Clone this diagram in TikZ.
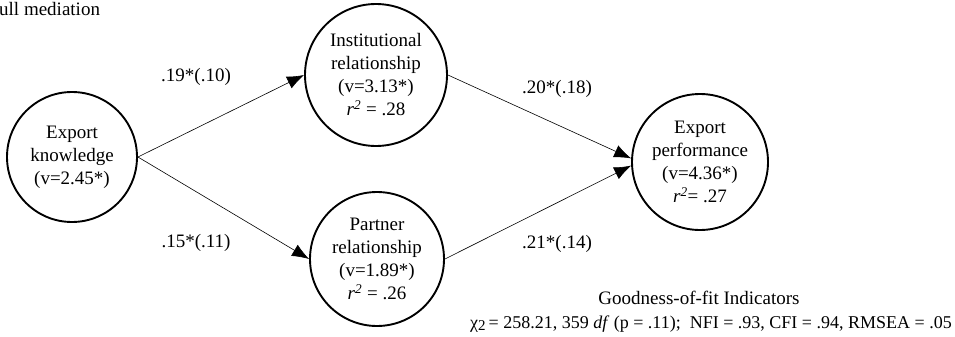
\documentclass[tikz,border=0pt]{standalone}
\usepackage{fontspec}
\setmainfont{Liberation Serif}
\usetikzlibrary{arrows.meta}
\begin{document}
\begin{tikzpicture}[x=1pt,y=-1pt,
  every node/.style={font=\fontsize{19}{23}\selectfont},
  var/.style={draw, circle, line width=1.9pt, inner sep=0pt, align=center},
  path/.style={draw, line width=0.6pt, -{Latex[length=17pt,width=13pt]}},
  coef/.style={inner sep=0pt}]
\useasboundingbox (0,0) rectangle (955,337);
\node[anchor=west, inner sep=0pt] (title) at (-1,9) {ull mediation};
\node[var, minimum size=130pt] (ek) at (72,157) {Export\\knowledge\\(v=2.45*)};
\node[var, minimum size=142pt] (inst) at (376,75) {Institutional\\relationship\\(v=3.13*)\\\textit{r}\textsuperscript{\textit{2}} = .28};
\node[var, minimum size=134pt] (part) at (377,259) {Partner\\relationship\\(v=1.89*)\\\textit{r}\textsuperscript{\textit{2}} = .26};
\node[var, minimum size=136pt] (ep) at (700,162) {Export\\performance\\(v=4.36*)\\\textit{r}\textsuperscript{\textit{2}}= .27};
\draw[path] (ek.east) -- (inst.west);
\draw[path] (ek.east) -- (part.west);
\draw[path] (inst.east) -- (ep.177);
\draw[path] (part.east) -- (ep.183);
\node[coef] (c1) at (196,77) {.19*(.10)};
\node[coef] (c2) at (196,243) {.15*(.11)};
\node[coef] (c3) at (557,89) {.20*(.18)};
\node[coef] (c4) at (557,244) {.21*(.14)};
\node[coef] (fit1) at (699,298) {Goodness-of-fit Indicators};
\node[coef, anchor=east, font=\fontsize{18}{20}\selectfont] (fit2) at (952,324) {χ\raisebox{-2pt}{\fontsize{15}{15}\selectfont 2}\,= 258.21, 359 \textit{df} (p = .11);\ \ NFI = .93, CFI = .94, RMSEA = .05};
\end{tikzpicture}
\end{document}
